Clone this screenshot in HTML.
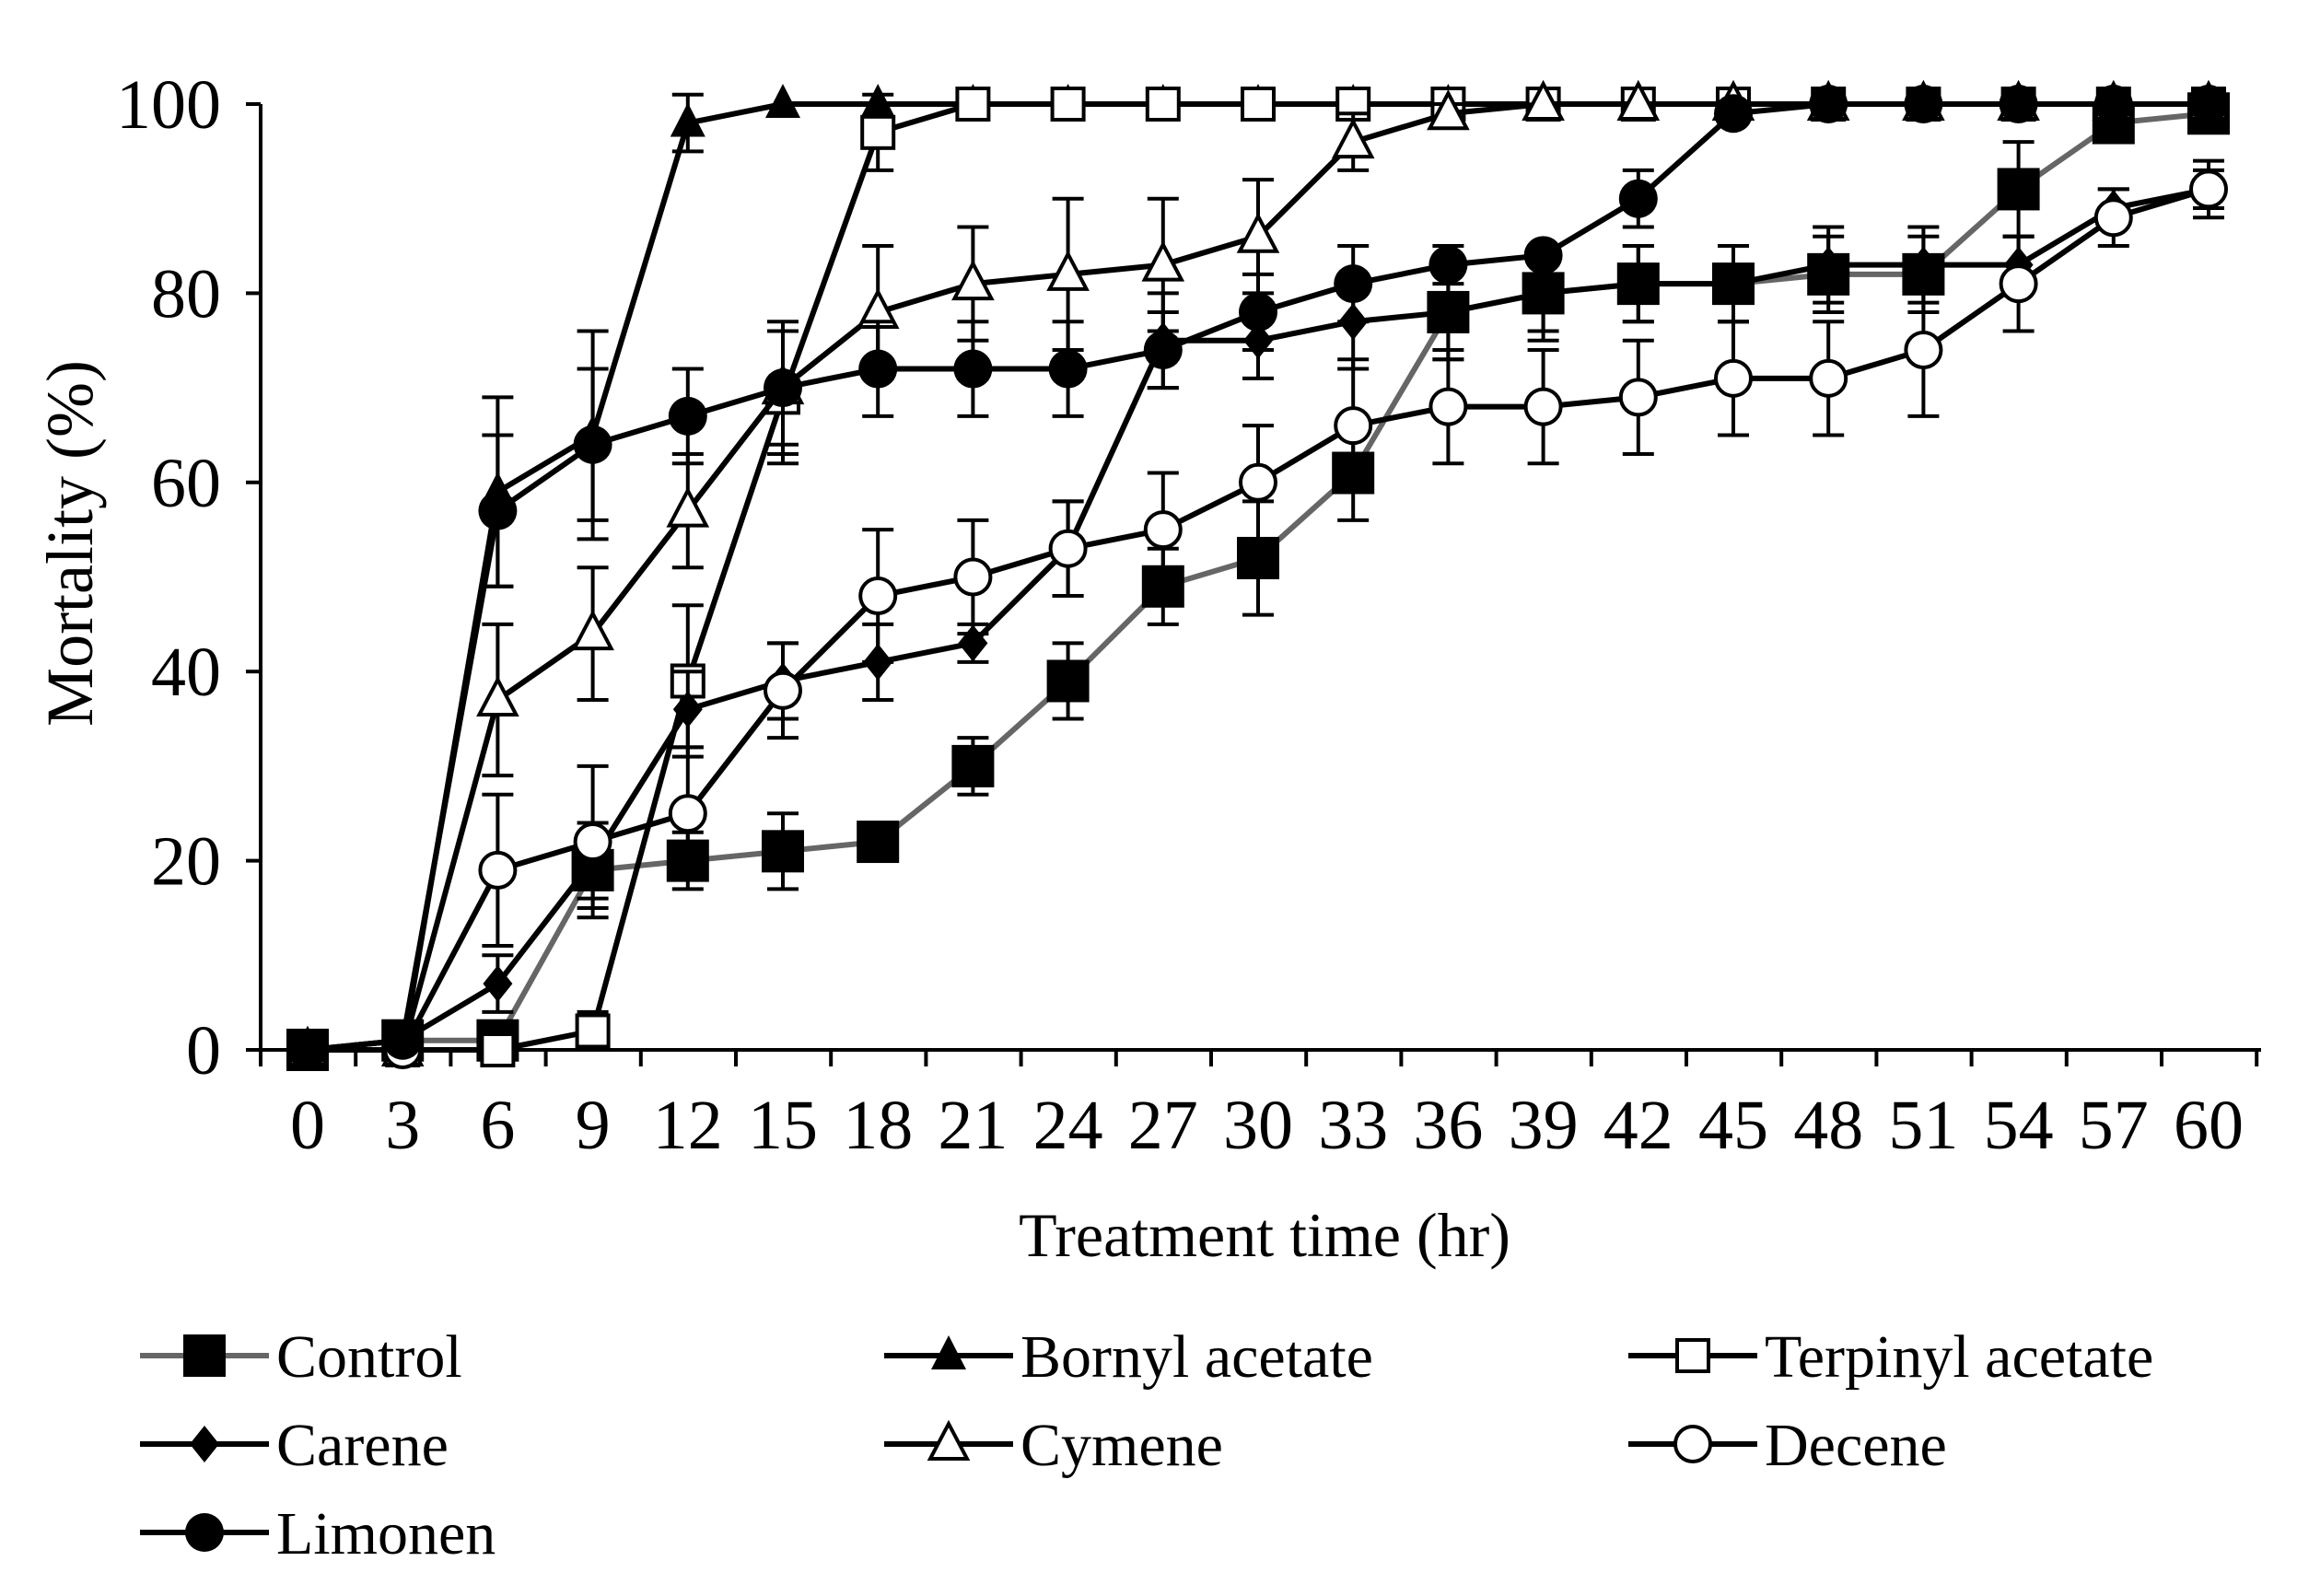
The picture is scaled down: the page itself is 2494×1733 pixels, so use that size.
<!DOCTYPE html>
<html><head><meta charset="utf-8"><style>
html,body{margin:0;padding:0;background:#fff;}
svg text{font-family:"Liberation Serif",serif;fill:#000;}
</style></head><body>
<svg id="chart" width="2494" height="1728" viewBox="0 0 2494 1728" xmlns="http://www.w3.org/2000/svg"></svg>
<script>
const times=[0,3,6,9,12,15,18,21,24,27,30,33,36,39,42,45,48,51,54,57,60];
const yTicks=[0,20,40,60,80,100];
const control=[0,1,1,19,20,21,22,30,39,49,52,61,78,80,81,81,82,82,91,98,99];
const controlErr=[0,0,0,4,3,4,2,3,4,4,6,5,5,4,4,4,4,4,5,2,1];
const bornyl=[0,0,59,65,98,100,100,100,100,100,100,100,100,100,100,100,100,100,100,100,100];
const bornylErr=[0,0,10,11,3,0,0,0,0,0,0,0,0,0,0,0,0,0,0,0,0];
const terpinyl=[0,0,0,2,39,69,97,100,100,100,100,100,100,100,100,100,100,100,100,100,100];
const terpinylErr=[0,0,0,2,8,7,4,0,0,0,0,0,0,0,0,0,0,0,0,0,0];
const carene=[0,1,7,20,36,39,41,43,53,75,75,77,78,80,81,81,83,83,83,89,91];
const careneErr=[0,0,3,4,4,4,4,2,5,5,4,5,5,5,4,4,4,4,3,2,2];
const cymene=[0,0,37,44,57,70,78,81,82,83,86,96,99,100,100,100,100,100,100,100,100];
const cymeneErr=[0,0,8,7,6,7,7,6,8,7,6,3,1,0,0,0,0,0,0,0,0];
const decene=[0,0,19,22,25,38,48,50,53,55,60,66,68,68,69,71,71,74,81,88,91];
const deceneErr=[0,0,8,8,7,5,7,6,5,6,6,7,6,6,6,6,6,7,5,3,3];
const limonen=[0,1,57,64,67,70,72,72,72,74,78,81,83,84,90,99,100,100,100,100,100];
const limonenErr=[0,0,8,8,5,6,5,5,5,4,4,4,2,0,3,1,0,0,0,0,0];

const svg=document.getElementById('chart');
const NS='http://www.w3.org/2000/svg';
const X0=283,X1=2455,Y0=1140,Y1=113;
const XT0=334,XT60=2398;
function xs(t){return XT0+t/60*(XT60-XT0);}
function ys(v){return Y0-(v/100)*(Y0-Y1);}
function mk(tag,attrs,parent){const e=document.createElementNS(NS,tag);for(const k in attrs)e.setAttribute(k,attrs[k]);(parent||svg).appendChild(e);return e;}

const axes=mk('g',{});


mk('line',{x1:X0,y1:Y1,x2:X0,y2:Y0,stroke:'#000','stroke-width':4},axes);
mk('line',{x1:X0,y1:Y0,x2:X1,y2:Y0,stroke:'#000','stroke-width':4},axes);
yTicks.forEach(v=>{
  mk('line',{x1:X0-16,y1:ys(v),x2:X0,y2:ys(v),stroke:'#000','stroke-width':4},axes);
  const t=mk('text',{x:240,y:ys(v)+26,'text-anchor':'end','font-size':76},axes);
  t.textContent=v;
  
  
});
const step=(XT60-XT0)/20;
for(let i=0;i<=21;i++){
  const x=X0+i*step;
  mk('line',{x1:x,y1:Y0,x2:x,y2:Y0+18,stroke:'#000','stroke-width':4},axes);
}
times.forEach(tv=>{
  const t=mk('text',{x:xs(tv),y:1247,'text-anchor':'middle','font-size':76},axes);
  t.textContent=tv;
  
  
});
const xt=mk('text',{x:1373,y:1364,'text-anchor':'middle','font-size':68});
xt.textContent='Treatment time (hr)';


const yt=mk('text',{x:0,y:0,'text-anchor':'middle','font-size':72,transform:'translate(100,590) rotate(-90)'});
yt.textContent='Mortality (%)';



function marker(g,type,x,y){
  const s=23;
  if(type==='fsq')mk('rect',{x:x-s,y:y-s,width:2*s,height:2*s,fill:'#000'},g);
  else if(type==='osq')mk('rect',{x:x-17,y:y-17,width:34,height:34,fill:'#fff',stroke:'#000','stroke-width':4},g);
  else if(type==='ftri')mk('polygon',{points:`${x},${y-22} ${x-19},${y+15} ${x+19},${y+15}`,fill:'#000'},g);
  else if(type==='otri')mk('polygon',{points:`${x},${y-22} ${x-20},${y+16} ${x+20},${y+16}`,fill:'#fff',stroke:'#000','stroke-width':4},g);
  else if(type==='dia')mk('polygon',{points:`${x},${y-20} ${x-16},${y} ${x},${y+20} ${x+16},${y}`,fill:'#000'},g);
  else if(type==='fcir')mk('circle',{cx:x,cy:y,r:21,fill:'#000'},g);
  else if(type==='ocir')mk('circle',{cx:x,cy:y,r:19,fill:'#fff',stroke:'#000','stroke-width':4},g);
}
const series=[
  {name:'control',vals:control,err:controlErr,color:'#666',m:'fsq'},
  {name:'bornyl-acetate',vals:bornyl,err:bornylErr,color:'#000',m:'ftri'},
  {name:'terpinyl-acetate',vals:terpinyl,err:terpinylErr,color:'#000',m:'osq'},
  {name:'carene',vals:carene,err:careneErr,color:'#000',m:'dia'},
  {name:'cymene',vals:cymene,err:cymeneErr,color:'#000',m:'otri'},
  {name:'decene',vals:decene,err:deceneErr,color:'#000',m:'ocir'},
  {name:'limonen',vals:limonen,err:limonenErr,color:'#000',m:'fcir'}
];
series.forEach(s=>{
  const g=mk('g',{});
  
  
  s.vals.forEach((v,i)=>{
    const e=s.err[i];if(e>0){
      const x=xs(times[i]);
      mk('line',{x1:x,y1:ys(v-e),x2:x,y2:ys(v+e),stroke:'#000','stroke-width':4},g);
      mk('line',{x1:x-17,y1:ys(v-e),x2:x+17,y2:ys(v-e),stroke:'#000','stroke-width':4},g);
      mk('line',{x1:x-17,y1:ys(v+e),x2:x+17,y2:ys(v+e),stroke:'#000','stroke-width':4},g);
    }
  });
  const pts=s.vals.map((v,i)=>xs(times[i])+','+ys(v)).join(' ');
  const pl=mk('polyline',{points:pts,fill:'none',stroke:s.color,'stroke-width':6,'stroke-linejoin':'round'},g);
  
  
  s.vals.forEach((v,i)=>marker(g,s.m,xs(times[i]),ys(v)));
});
const legendLabels=['Control','Bornyl acetate','Terpinyl acetate','Carene','Cymene','Decene','Limonen'];
const lgX=[152,960,1768],lgY=[1472,1568,1664];
legendLabels.forEach((lab,i)=>{
  const s=series[i];const cx=lgX[i%3],cy=lgY[Math.floor(i/3)];
  const g=mk('g',{});
  
  
  mk('line',{x1:cx,y1:cy,x2:cx+140,y2:cy,stroke:s.color,'stroke-width':6},g);
  marker(g,s.m,cx+70,cy);
  const t=mk('text',{x:cx+148,y:cy+23,'font-size':66},g);
  t.textContent=lab;
});
</script>
</body></html>
